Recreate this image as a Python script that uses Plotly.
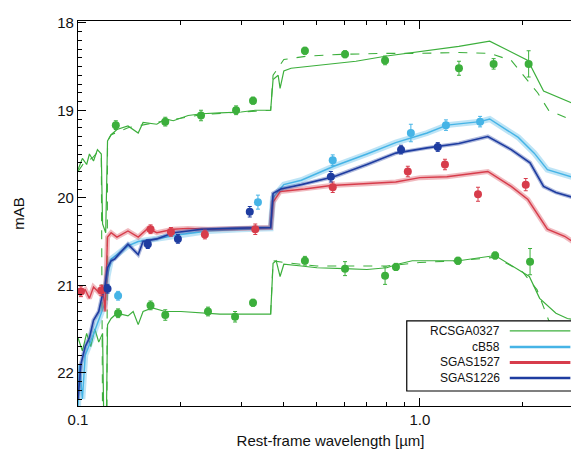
import plotly.graph_objects as go

# ---------------- model curves (rest-frame wavelength in micron, AB mag) ----------------
rcs_a_wave = [0.100, 0.103, 0.106, 0.108, 0.111, 0.114, 0.117, 0.118, 0.1205, 0.122, 0.125, 0.130, 0.140,
              0.150, 0.155, 0.170, 0.180, 0.190, 0.210, 0.230, 0.260, 0.300, 0.330, 0.366, 0.372, 0.385,
              0.390, 0.400, 0.420, 0.470, 0.550, 0.650, 0.800, 1.000, 1.300, 1.600, 2.070, 2.300, 2.700, 3.000]
rcs_a_mag = [19.68, 19.55, 19.62, 19.50, 19.58, 19.45, 19.50, 20.30, 20.40, 19.35, 19.28, 19.22, 19.18,
             19.26, 19.14, 19.16, 19.10, 19.12, 19.06, 19.04, 19.03, 19.02, 19.00, 19.00, 18.65, 18.60,
             18.75, 18.55, 18.52, 18.50, 18.47, 18.44, 18.38, 18.33, 18.27, 18.21, 18.43, 18.78, 18.90, 18.97]
rcs_a_dash_wave = [0.100, 0.105, 0.110, 0.114, 0.117, 0.118, 0.1215, 0.122, 0.125, 0.140, 0.180, 0.230, 0.300,
                   0.366, 0.372, 0.400, 0.470, 0.600, 0.800, 1.000, 1.300, 1.600, 1.850, 2.210, 2.380, 2.930]
rcs_a_dash_mag = [19.70, 19.58, 19.55, 19.48, 19.52, 22.60, 22.60, 19.35, 19.28, 19.20, 19.12, 19.05, 19.02,
                  19.00, 18.60, 18.42, 18.38, 18.36, 18.35, 18.35, 18.34, 18.35, 18.43, 18.80, 19.00, 19.15]

rcs_b_wave = [0.100, 0.103, 0.106, 0.109, 0.112, 0.115, 0.118, 0.119, 0.121, 0.122, 0.125, 0.130, 0.140, 0.145,
              0.150, 0.155, 0.165, 0.180, 0.200, 0.230, 0.260, 0.300, 0.366, 0.372, 0.380, 0.390, 0.400,
              0.450, 0.500, 0.600, 0.700, 0.800, 0.860, 0.950, 1.300, 1.660, 2.090, 2.240, 2.500, 2.700, 3.000]
rcs_b_mag = [21.60, 21.75, 21.55, 21.70, 21.50, 21.65, 21.55, 22.60, 22.60, 21.45, 21.38, 21.32, 21.35, 21.30,
             21.45, 21.30, 21.26, 21.30, 21.30, 21.32, 21.33, 21.33, 21.33, 20.75, 20.72, 20.90, 20.76,
             20.78, 20.80, 20.81, 20.82, 20.80, 20.76, 20.72, 20.72, 20.66, 20.90, 21.15, 21.32, 21.38, 21.41]
rcs_b_dash_wave = [0.366, 0.372, 0.400, 0.500, 0.800, 1.000, 1.300, 1.660, 2.000, 2.200, 2.380, 2.600, 3.000]
rcs_b_dash_mag = [21.33, 20.72, 20.74, 20.78, 20.78, 20.74, 20.72, 20.68, 20.85, 21.05, 21.40, 21.55, 21.70]

s1527_wave = [0.100, 0.105, 0.108, 0.111, 0.115, 0.118, 0.120, 0.122, 0.125, 0.130, 0.140, 0.150, 0.160, 0.170,
              0.190, 0.210, 0.240, 0.280, 0.330, 0.366, 0.372, 0.390, 0.410, 0.460, 0.550, 0.700, 0.850,
              1.000, 1.200, 1.580, 1.850, 2.070, 2.360, 2.650, 3.000]
s1527_mag = [21.10, 21.05, 21.15, 21.02, 21.08, 21.00, 21.30, 20.45, 20.40, 20.45, 20.38, 20.45, 20.35, 20.40,
             20.36, 20.35, 20.36, 20.35, 20.34, 20.34, 20.05, 19.93, 19.92, 19.90, 19.86, 19.84, 19.82,
             19.77, 19.76, 19.70, 19.87, 20.02, 20.36, 20.44, 20.58]

s1226_wave = [0.100, 0.102, 0.105, 0.108, 0.111, 0.115, 0.118, 0.120, 0.122, 0.125, 0.128, 0.135, 0.140, 0.150,
              0.155, 0.170, 0.190, 0.210, 0.230, 0.280, 0.366, 0.372, 0.392, 0.450, 0.560, 0.700, 0.850,
              1.050, 1.300, 1.580, 1.850, 2.100, 2.300, 2.500, 2.700, 3.000]
s1226_mag = [22.30, 21.90, 21.70, 21.60, 21.40, 21.30, 21.10, 21.00, 20.80, 20.72, 20.70, 20.60, 20.53, 20.65,
             20.50, 20.47, 20.40, 20.38, 20.36, 20.35, 20.34, 19.95, 19.90, 19.85, 19.76, 19.62, 19.49,
             19.43, 19.38, 19.30, 19.45, 19.60, 19.87, 19.94, 19.98, 20.03]

cb58_wave = [0.100, 0.101, 0.103, 0.105, 0.110, 0.115, 0.120, 0.122, 0.125, 0.130, 0.140, 0.150, 0.170, 0.200,
             0.240, 0.300, 0.366, 0.372, 0.400, 0.450, 0.560, 0.700, 0.850, 1.050, 1.200, 1.500, 1.600,
             1.940, 2.160, 2.360, 2.750, 3.000]
cb58_mag = [22.40, 21.90, 22.30, 21.80, 21.60, 21.40, 21.20, 20.90, 20.70, 20.65, 20.55, 20.50, 20.47, 20.42,
            20.38, 20.36, 20.35, 20.00, 19.85, 19.80, 19.64, 19.50, 19.37, 19.26, 19.17, 19.13, 19.10,
            19.31, 19.49, 19.68, 19.76, 19.80]

# ---------------- photometry ----------------
rcs_a_pw = [0.129, 0.180, 0.229, 0.290, 0.325, 0.461, 0.604, 0.791, 1.301, 1.643, 2.080, 2.870]
rcs_a_pm = [19.17, 19.13, 19.06, 19.00, 18.89, 18.32, 18.36, 18.43, 18.52, 18.47, 18.47, 18.98]
rcs_a_pe = [0.05, 0.05, 0.06, 0.05, 0.04, 0.04, 0.04, 0.05, 0.08, 0.06, 0.15, 0.05]

rcs_b_pw = [0.131, 0.163, 0.180, 0.240, 0.288, 0.325, 0.461, 0.604, 0.791, 0.851, 1.292, 1.660, 2.100, 2.850]
rcs_b_pm = [21.32, 21.23, 21.34, 21.30, 21.36, 21.20, 20.72, 20.81, 20.89, 20.79, 20.72, 20.66, 20.73, 20.89]
rcs_b_pe = [0.05, 0.05, 0.06, 0.05, 0.06, 0.04, 0.05, 0.08, 0.10, 0.04, 0.04, 0.04, 0.15, 0.20]

s1527_pw = [0.102, 0.117, 0.163, 0.187, 0.235, 0.330, 0.556, 0.922, 1.184, 1.479, 2.040]
s1527_pm = [21.07, 21.06, 20.36, 20.39, 20.42, 20.36, 19.88, 19.70, 19.62, 19.96, 19.85]
s1527_pe = [0.06, 0.06, 0.05, 0.05, 0.05, 0.06, 0.06, 0.06, 0.06, 0.08, 0.07]

s1226_pw = [0.122, 0.160, 0.196, 0.318, 0.549, 0.881, 1.128]
s1226_pm = [21.04, 20.53, 20.47, 20.16, 19.76, 19.45, 19.42]
s1226_pe = [0.05, 0.05, 0.05, 0.06, 0.06, 0.05, 0.05]

cb58_pw = [0.131, 0.336, 0.556, 0.941, 1.192, 1.500]
cb58_pm = [21.12, 20.05, 19.57, 19.26, 19.17, 19.13]
cb58_pe = [0.05, 0.08, 0.06, 0.10, 0.06, 0.06]

legend_names = ["RCSGA0327", "cB58", "SGAS1527", "SGAS1226"]

GREEN = "rgb(60,175,60)"
LBLUE = "rgb(70,180,230)"
RED = "rgb(215,60,75)"
DBLUE = "rgb(30,60,160)"

fig = go.Figure()


def model(w, m, color, width=1.4, band=0, dash="solid"):
    if band:
        fig.add_trace(go.Scatter(x=w, y=m, mode="lines", line=dict(color=color, width=band),
                                 opacity=0.35, showlegend=False, hoverinfo="skip"))
    fig.add_trace(go.Scatter(x=w, y=m, mode="lines", line=dict(color=color, width=width, dash=dash),
                             showlegend=False))


def phot(w, m, e, color, size=8):
    fig.add_trace(go.Scatter(x=w, y=m, mode="markers",
                             marker=dict(color=color, size=size, symbol="circle"),
                             error_y=dict(type="data", array=e, color=color, thickness=1, width=2),
                             showlegend=False))


model(rcs_a_wave, rcs_a_mag, GREEN, 1.2)
model(rcs_a_dash_wave, rcs_a_dash_mag, GREEN, 1.1, dash="dash")
model(rcs_b_wave, rcs_b_mag, GREEN, 1.2)
model(rcs_b_dash_wave, rcs_b_dash_mag, GREEN, 1.1, dash="dash")
model(cb58_wave, cb58_mag, LBLUE, 1.4, band=6)
model(s1527_wave, s1527_mag, RED, 1.4, band=5)
model(s1226_wave, s1226_mag, DBLUE, 1.6, band=4)

phot(rcs_a_pw, rcs_a_pm, rcs_a_pe, GREEN)
phot(rcs_b_pw, rcs_b_pm, rcs_b_pe, GREEN)
phot(cb58_pw, cb58_pm, cb58_pe, LBLUE)
phot(s1527_pw, s1527_pm, s1527_pe, RED)
phot(s1226_pw, s1226_pm, s1226_pe, DBLUE)

FONT = "Liberation Sans, Arial, sans-serif"

# ---------------- manual legend (text left of line, boxed) ----------------
shapes = [dict(type="rect", xref="paper", yref="paper", x0=0.651, x1=0.992, y0=0.039, y1=0.221,
               fillcolor="white", line=dict(color="black", width=1.2), layer="above")]
annotations = []
leg_colors = [GREEN, LBLUE, RED, DBLUE]
leg_widths = [1.2, 2.5, 3, 2.5]
leg_y = [0.195, 0.153, 0.113, 0.073]
for name, col, lw, yy in zip(legend_names, leg_colors, leg_widths, leg_y):
    annotations.append(dict(xref="paper", yref="paper", x=0.84, y=yy, text=name, showarrow=False,
                            xanchor="right", yanchor="middle", font=dict(family=FONT, size=12, color="#111")))
    shapes.append(dict(type="line", xref="paper", yref="paper", x0=0.855, x1=0.975, y0=yy, y1=yy,
                       line=dict(color=col, width=lw), layer="above"))

fig.update_layout(
    width=579, height=450,
    margin=dict(l=70, r=4, t=13, b=52),
    paper_bgcolor="white", plot_bgcolor="white",
    font=dict(family=FONT, size=15, color="#111"),
    showlegend=False,
    shapes=shapes, annotations=annotations,
    xaxis=dict(type="log", range=[-1, 0.4771], showgrid=False, zeroline=False,
               showline=True, linecolor="black", linewidth=1.2, mirror="ticks",
               ticks="inside", ticklen=8, tickcolor="black",
               tickvals=[0.1, 1.0], ticktext=["0.1", "1.0"],
               minor=dict(tickmode="array", tickvals=[0.2, 0.3, 0.4, 0.5, 0.6, 0.7, 0.8, 0.9, 2, 3],
                          ticks="inside", ticklen=4, tickcolor="black", showgrid=False),
               title=dict(text="Rest-frame wavelength [µm]", standoff=8, font=dict(size=15))),
    yaxis=dict(range=[22.38, 17.98], showgrid=False, zeroline=False,
               showline=True, linecolor="black", linewidth=1.2, mirror="ticks",
               ticks="inside", ticklen=8, tickcolor="black",
               tickvals=[18, 19, 20, 21, 22],
               minor=dict(dtick=0.1, ticks="inside", ticklen=4, tickcolor="black", showgrid=False),
               title=dict(text="mAB", standoff=28, font=dict(size=15))),
)

fig.write_html("out.html")
